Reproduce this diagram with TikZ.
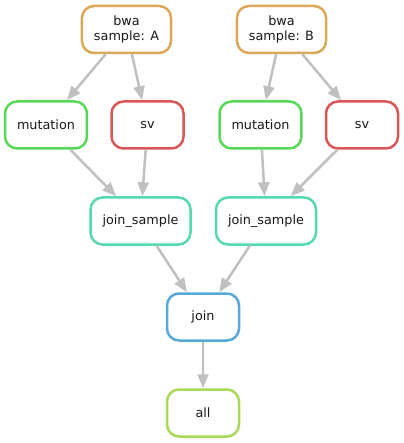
\documentclass[tikz,border=0pt]{standalone}
\usepackage{fontspec}
\setmainfont{DejaVu Sans}
\usetikzlibrary{arrows.meta, positioning}
\definecolor{bwacolor}{HTML}{D9A957}
\definecolor{mutationcolor}{HTML}{57D957}
\definecolor{svcolor}{HTML}{D95757}
\definecolor{joinsamplecolor}{HTML}{57D9AB}
\definecolor{joincolor}{HTML}{57A9D9}
\definecolor{allcolor}{HTML}{A9D957}
\definecolor{edgegray}{HTML}{C0C0C0}

\begin{document}
\begin{tikzpicture}[
                    x=1pt, y=-1pt,
                    rule/.style={
                        draw=#1,
                        line width=2.5pt,
                        rounded corners=12pt,
                        fill=white,
                        align=center,
                        inner xsep=12pt,
                        minimum width=72pt,
                        minimum height=47pt,
                        text=black!90,
                        font=\fontsize{12.8}{15}\selectfont
                    },
                    edge/.style={
                        draw=edgegray,
                        line width=2.5pt,
                        -{Triangle[length=14pt, width=11pt]}
                    }
                ]
                \useasboundingbox (0, 0) rectangle (403, 443);

                \node[rule=bwacolor] (bwaA) at (126.5, 29.5) {bwa\\sample: A};
                \node[rule=bwacolor] (bwaB) at (281.5, 29.5) {bwa\\sample: B};

                \node[rule=mutationcolor] (mutationA) at (46, 125) {mutation};
                \node[rule=svcolor] (svA) at (147.5, 125) {sv};
                \node[rule=mutationcolor] (mutationB) at (260.5, 125) {mutation};
                \node[rule=svcolor] (svB) at (362, 125) {sv};

                \node[rule=joinsamplecolor] (joinsampleA) at (140.5, 221) {join\_sample};
                \node[rule=joinsamplecolor] (joinsampleB) at (266, 221) {join\_sample};

                \node[rule=joincolor] (join) at (203, 317) {join};
                \node[rule=allcolor] (all) at (203, 413) {all};

                \draw[edge] (bwaA) -- (mutationA);
                \draw[edge] (bwaA) -- (svA);
                \draw[edge] (bwaB) -- (mutationB);
                \draw[edge] (bwaB) -- (svB);

                \draw[edge] (mutationA) -- (joinsampleA);
                \draw[edge] (svA) -- (joinsampleA);
                \draw[edge] (mutationB) -- (joinsampleB);
                \draw[edge] (svB) -- (joinsampleB);

                \draw[edge] (joinsampleA) -- (join);
                \draw[edge] (joinsampleB) -- (join);
                \draw[edge] (join) -- (all);
            \end{tikzpicture}
\end{document}
